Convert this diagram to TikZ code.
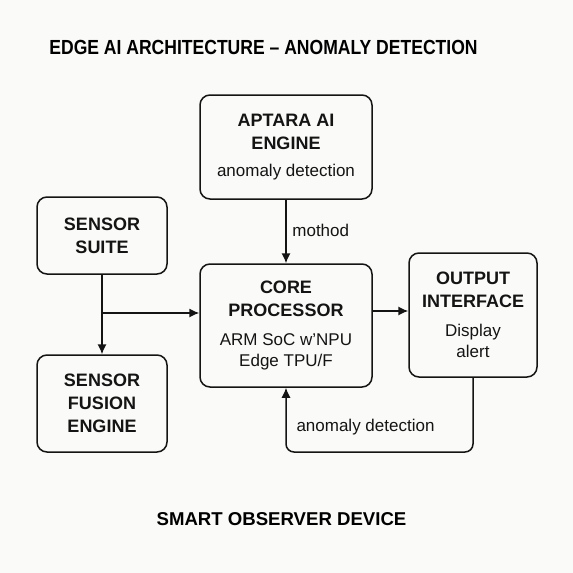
\documentclass[tikz,border=0pt]{standalone}
\usepackage{fontspec}
\setmainfont{Liberation Sans}
\newfontfamily\narrowsans[FakeStretch=0.86]{Liberation Sans}
\usetikzlibrary{arrows.meta}

\definecolor{paper}{RGB}{250,250,248}
\definecolor{ink}{RGB}{20,20,20}

\newcommand{\hdfont}{\fontsize{9}{11.5}\selectfont\bfseries}
\newcommand{\bdfont}{\fontsize{8.5}{10}\selectfont\mdseries}

\tikzset{
  block/.style={draw=ink, line width=0.75pt, rounded corners=5pt, align=center,
    inner sep=0pt, text=ink, font=\hdfont},
  flow/.style={draw=ink, line width=0.75pt, -{Latex[length=5pt,width=4.6pt]}},
  tag/.style={text=ink, font=\bdfont, inner sep=0pt}
}

\begin{document}
\begin{tikzpicture}[x=0.5pt,y=-0.5pt]
\fill[paper] (0,0) rectangle (573,573);
\useasboundingbox (0,0) rectangle (573,573);

% titles
\node (title) at (263.5,47) {\narrowsans\fontsize{10.2}{12}\selectfont\bfseries EDGE AI ARCHITECTURE – ANOMALY DETECTION};
\node (device) at (281.5,519) {\fontsize{9.3}{11}\selectfont\bfseries SMART OBSERVER DEVICE};

% blocks
\node[block, minimum width=86pt, minimum height=52pt] (engine) at (286,147)
  {APTARA AI\\ ENGINE\\[2pt] {\bdfont anomaly detection}};
\node[block, minimum width=65pt, minimum height=38.5pt] (suite) at (102,235.5)
  {SENSOR\\ SUITE};
\node[block, minimum width=65pt, minimum height=48.5pt] (fusion) at (102,403.5)
  {SENSOR\\ FUSION\\ ENGINE};
\node[block, minimum width=86pt, minimum height=61.5pt] (core) at (286,325.5)
  {CORE\\ PROCESSOR\\[3pt] {\bdfont ARM SoC w’NPU}\\[-1pt] {\bdfont Edge TPU/F}};
\node[block, minimum width=64pt, minimum height=62pt] (output) at (473,315)
  {OUTPUT\\ INTERFACE\\[3pt] {\bdfont Display}\\[-1pt] {\bdfont alert}};

% connectors
\coordinate (split) at (102,313);
\coordinate (outrow) at (390,311);
\coordinate (loop) at (380,452);
\draw[flow] (engine) -- (core);
\draw[flow] (suite) -- (fusion);
\draw[flow] (split) -- (split -| core.west);
\draw[flow] (outrow -| core.east) -- (outrow -| output.west);
\draw[flow, rounded corners=4pt] (output.south) |- (loop) -| (core.south);

% labels
\node[tag, anchor=west] (method) at (292,230) {mothod};
\node[tag] (feedback) at (365.5,427.5) {anomaly detection};
\end{tikzpicture}
\end{document}
